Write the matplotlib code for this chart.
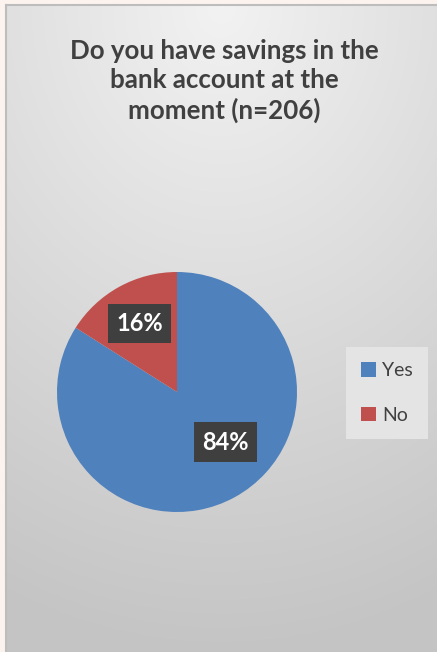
import numpy as np
import matplotlib
matplotlib.use("Agg")
import matplotlib.pyplot as plt

# data
categorias = ["Yes", "No"]
valores = [84, 16]
cores = ["#4F81BD", "#C0504D"]
titulo = "Do you have savings in the\nbank account at the\nmoment (n=206)"

W, H = 437, 652
plt.rcParams["font.family"] = ["Lato", "DejaVu Sans"]

fig = plt.figure(figsize=(W / 100, H / 100), dpi=100)
fig.patch.set_facecolor("#FCF3EE")

# area do grafico com gradiente
bg = fig.add_axes([6 / W, 0, (W - 6) / W, (H - 5) / H])
yy, xx = np.mgrid[0:1:300j, 0:1:200j]
dist = np.sqrt(((xx - 0.5) * 0.8) ** 2 + (yy * 1.0) ** 2)
dist = np.clip(dist, 0, 1)
topo = np.array([0.95, 0.95, 0.95])
fundo = np.array([0.77, 0.77, 0.77])
img = topo[None, None, :] * (1 - dist[..., None]) + fundo[None, None, :] * dist[..., None]
bg.imshow(img, aspect="auto", extent=[0, 1, 1, 0])
bg.set_xticks([])
bg.set_yticks([])
for lado, sp in bg.spines.items():
    sp.set_color("#BDBDBD")
    sp.set_linewidth(1.5)
    if lado in ("right", "bottom"):
        sp.set_visible(False)

fig.text(224 / W, 1 - 81 / H, titulo, ha="center", va="center",
         fontsize=18.6, fontweight="bold", color="#404040", linespacing=1.25)

# pizza
cx, cy, r = 177, 392, 120
ax = fig.add_axes([(cx - r) / W, (H - cy - r) / H, 2 * r / W, 2 * r / H])
fatias, textos, pct = ax.pie(valores, colors=cores, startangle=90, counterclock=False,
                             radius=1, autopct="%1.0f%%", pctdistance=0.65,
                             wedgeprops=dict(linewidth=0))
ax.set_xlim(-1, 1)
ax.set_ylim(-1, 1)
ax.set_aspect("equal")
ax.axis("off")

# posicao do rotulo "Yes" (melhor ajuste do Excel)
ang = np.deg2rad(-46)
pct[0].set_position((0.58 * np.cos(ang), 0.58 * np.sin(ang)))
for t in pct:
    t.set_color("white")
    t.set_fontweight("bold")
    t.set_fontsize(17)
    t.set_bbox(dict(boxstyle="square,pad=0.35", facecolor="#3F3F3F", edgecolor="none"))

leg = fig.legend(fatias, categorias, loc="center",
                 bbox_to_anchor=(387 / W, 1 - 393 / H), bbox_transform=fig.transFigure,
                 fontsize=14, frameon=True, fancybox=False, handlelength=0.75,
                 handleheight=0.75, handletextpad=0.3, labelspacing=1.4,
                 borderpad=0.8)
leg.get_frame().set_facecolor("#E4E4E4")
leg.get_frame().set_edgecolor("none")
leg.get_frame().set_alpha(1)
for t in leg.get_texts():
    t.set_color("#404040")

fig.savefig("out.png", dpi=100, facecolor=fig.get_facecolor())
